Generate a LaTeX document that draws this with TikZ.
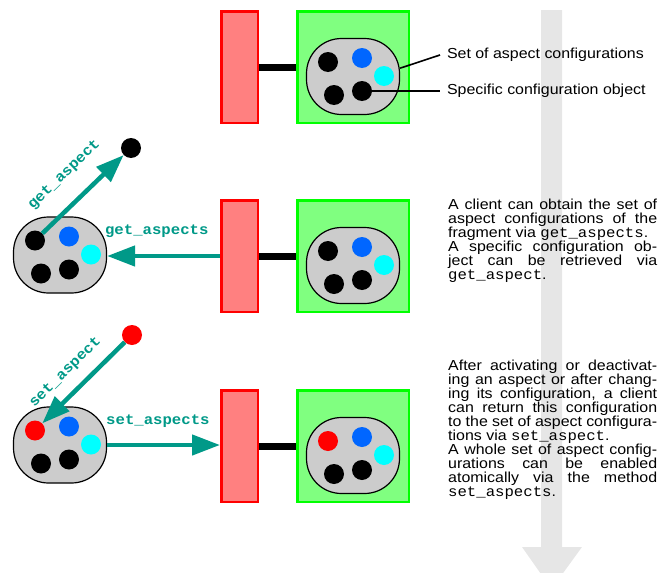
\documentclass[tikz,border=0pt]{standalone}
\usepackage{fontspec}
\setmainfont{Liberation Sans}[FakeStretch=1.1]
\setmonofont{Liberation Mono}[FakeStretch=1.08]
\usepackage{tikz}
\usetikzlibrary{arrows.meta,positioning}
\definecolor{fragred}{RGB}{255,128,128}
\definecolor{storegreen}{RGB}{128,255,128}
\definecolor{setgray}{RGB}{204,204,204}
\definecolor{opteal}{RGB}{0,153,136}
\definecolor{flowgray}{RGB}{230,230,230}
\definecolor{cfgblue}{RGB}{0,102,255}
\definecolor{cfgcyan}{RGB}{0,255,255}
\definecolor{cfgred}{RGB}{255,0,0}

\begin{document}
\begin{tikzpicture}[
  x=1pt, y=-1pt,
  font=\fontsize{14.5pt}{14pt}\selectfont,
  frag/.style={draw=red, line width=2.5pt, fill=fragred, minimum width=36.5pt, minimum height=111.5pt, inner sep=0pt},
  store/.style={draw=green, line width=2.5pt, fill=storegreen, minimum width=111.5pt, minimum height=111.5pt, inner sep=0pt},
  cfgset/.style={draw=black, line width=1.2pt, fill=setgray, rounded corners=35pt, minimum width=93pt, minimum height=76pt, inner sep=0pt},
  cfg/.style={circle, fill=#1, minimum size=20pt, inner sep=0pt},
  link/.style={line width=7pt, black},
  leader/.style={line width=1.6pt, black},
  callout/.style={anchor=west, inner sep=0pt, outer xsep=7pt},
  arr/.style={-{Triangle[length=28pt, width=20pt]}, line width=4.5pt, opteal},
  op/.style={font=\fontsize{14.5pt}{14pt}\selectfont\ttfamily\bfseries, text=opteal},
  note/.style={anchor=north west, inner sep=0pt, text width=209pt, align=justify,
    execute at begin node={\tolerance=9999\hyphenpenalty=10000}}
]
\useasboundingbox (0,0) rectangle (665,573);
\clip (0,0) rectangle (665,573);

% time runs downwards
\fill[flowgray] (541,10) -- (562,10) -- (562,547) -- (582,547) -- (551.5,589) -- (522,547) -- (541,547) -- cycle;

% fragment with its set of aspect configurations
\node[frag] (frag1) at (239.5,67) {};
\node[store, right=37pt of frag1] (store1) {};
\node[frag] (frag2) at (239.5,256) {};
\node[store, right=37pt of frag2] (store2) {};
\node[frag] (frag3) at (239.5,446) {};
\node[store, right=37pt of frag3] (store3) {};
\draw[link] (frag1) -- (store1);
\draw[link] (frag2) -- (store2);
\draw[link] (frag3) -- (store3);

\node[cfgset] (set1) at ([yshift=-9.5pt]store1.center) {};
\node[cfg=black] (set1a) at ([shift={(-25,-14.5)}]set1.center) {};
\node[cfg=cfgblue] (set1b) at ([shift={(9,-18.5)}]set1.center) {};
\node[cfg=cfgcyan] (set1c) at ([shift={(31,-0.5)}]set1.center) {};
\node[cfg=black] (set1d) at ([shift={(-19,18.5)}]set1.center) {};
\node[cfg=black] (set1e) at ([shift={(9,14.5)}]set1.center) {};

\node[cfgset] (set2) at ([yshift=-9.5pt]store2.center) {};
\node[cfg=black] (set2a) at ([shift={(-25,-14.5)}]set2.center) {};
\node[cfg=cfgblue] (set2b) at ([shift={(9,-18.5)}]set2.center) {};
\node[cfg=cfgcyan] (set2c) at ([shift={(31,-0.5)}]set2.center) {};
\node[cfg=black] (set2d) at ([shift={(-19,18.5)}]set2.center) {};
\node[cfg=black] (set2e) at ([shift={(9,14.5)}]set2.center) {};

\node[cfgset] (set3) at ([yshift=-9.5pt]store3.center) {};
\node[cfg=cfgred] (set3a) at ([shift={(-25,-14.5)}]set3.center) {};
\node[cfg=cfgblue] (set3b) at ([shift={(9,-18.5)}]set3.center) {};
\node[cfg=cfgcyan] (set3c) at ([shift={(31,-0.5)}]set3.center) {};
\node[cfg=black] (set3d) at ([shift={(-19,18.5)}]set3.center) {};
\node[cfg=black] (set3e) at ([shift={(9,14.5)}]set3.center) {};

% callouts
\node[callout] (setlbl) at (440,55) {Set of aspect configurations};
\node[callout] (speclbl) at (440,91) {Specific configuration object};
\draw[leader] (set1.10) -- (setlbl.west);
\draw[leader] (set1e) -- (speclbl.west);

% client side copies
\node[cfgset] (client2) at (60,255) {};
\node[cfg=black] (client2a) at ([shift={(-25,-14.5)}]client2.center) {};
\node[cfg=cfgblue] (client2b) at ([shift={(9,-18.5)}]client2.center) {};
\node[cfg=cfgcyan] (client2c) at ([shift={(31,-0.5)}]client2.center) {};
\node[cfg=black] (client2d) at ([shift={(-19,18.5)}]client2.center) {};
\node[cfg=black] (client2e) at ([shift={(9,14.5)}]client2.center) {};
\node[cfg=black] (getdot) at (131,148) {};

\node[cfgset] (client3) at (60,445) {};
\node[cfg=cfgred] (client3a) at ([shift={(-25,-14.5)}]client3.center) {};
\node[cfg=cfgblue] (client3b) at ([shift={(9,-18.5)}]client3.center) {};
\node[cfg=cfgcyan] (client3c) at ([shift={(31,-0.5)}]client3.center) {};
\node[cfg=black] (client3d) at ([shift={(-19,18.5)}]client3.center) {};
\node[cfg=black] (client3e) at ([shift={(9,14.5)}]client3.center) {};
\node[cfg=cfgred] (putdot) at (132,335) {};

% operations
\draw[arr] (frag2.west) -- (frag2.west -| client2.east)
  node[op, pos=0.56, above=13pt] (getslbl) {get\_aspects};
\draw[arr] (client2a) -- (getdot)
  node[op, midway, sloped, above=15pt] (getlbl) {get\_aspect};
\draw[arr] (client3.east) -- (client3.east -| frag3.west)
  node[op, pos=0.45, above=12pt] (setslbl) {set\_aspects};
\draw[arr] (putdot) -- (client3a)
  node[op, pos=0.55, sloped, above=8pt] (setlbl) {set\_aspect};

% explanations
\node[note] (note2) at (448,199) {A client can obtain the set of\linebreak
  aspect configurations of the\linebreak
  fragment via \texttt{get\_aspects}.\\
  A specific configuration ob-\linebreak
  ject can be retrieved via\linebreak
  \texttt{get\_aspect}.};
\node[note] (note3) at (448,360) {After activating or deactivat-\linebreak
  ing an aspect or after chang-\linebreak
  ing its configuration, a client\linebreak
  can return this configuration\linebreak
  to the set of aspect configura-\linebreak
  tions via \texttt{set\_aspect}.\\
  A whole set of aspect config-\linebreak
  urations can be enabled\linebreak
  atomically via the method\linebreak
  \texttt{set\_aspects}.};
\end{tikzpicture}
\end{document}
